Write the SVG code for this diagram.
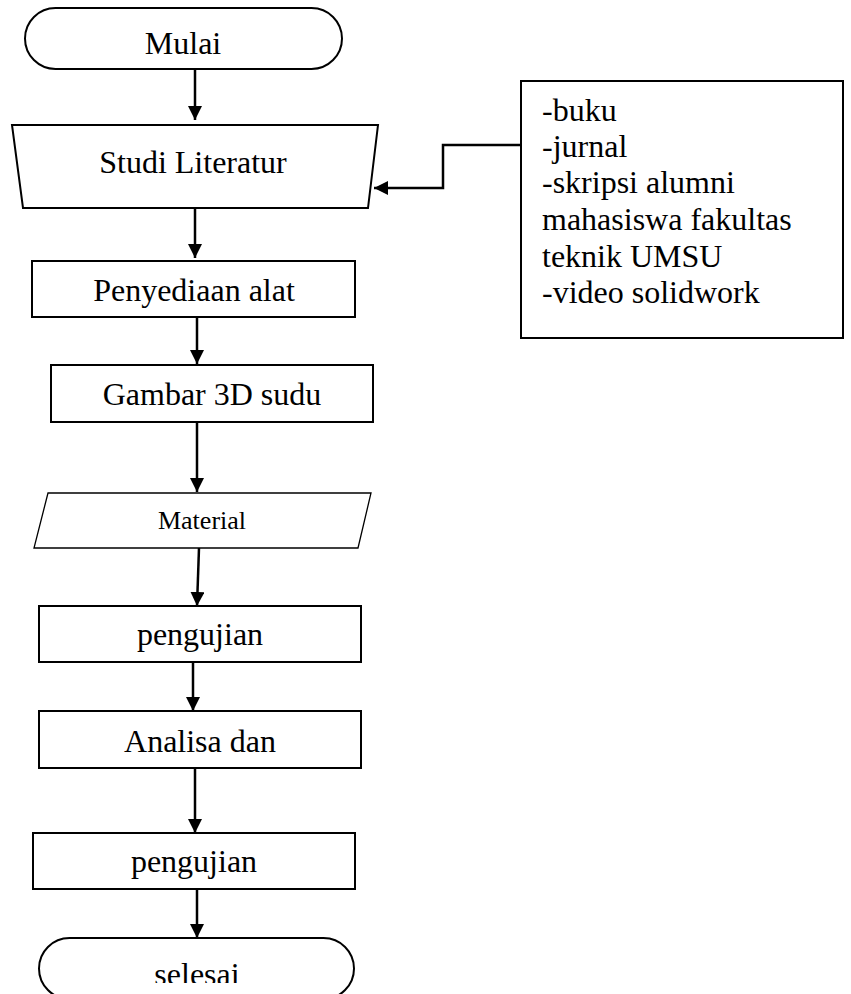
<svg xmlns="http://www.w3.org/2000/svg" width="851" height="994" viewBox="0 0 851 994">
<style>
.s{fill:#fff;stroke:#000;stroke-width:2}
.t{font-family:"Liberation Serif","Times New Roman",serif;font-size:32px;fill:#000;text-anchor:middle}
.l{font-family:"Liberation Serif","Times New Roman",serif;font-size:32px;fill:#000}
.c{fill:none;stroke:#000;stroke-width:2.5;marker-end:url(#ah)}
</style>
<defs>
<marker id="ah" markerUnits="userSpaceOnUse" markerWidth="14" markerHeight="14" refX="14" refY="7" orient="auto">
<path d="M0,0 L14,7 L0,14 z" fill="#000"/>
</marker>
<clipPath id="cl"><rect x="0" y="0" width="851" height="983"/></clipPath>
</defs>
<rect width="851" height="994" fill="#fff"/>
<g id="connectors">
<path class="c" d="M195,69 V120"/>
<path class="c" d="M195,208 V258"/>
<path class="c" d="M197,317 V364"/>
<path class="c" d="M197,422 V492"/>
<path class="c" d="M199,548 L197,606"/>
<path class="c" d="M193,662 V711"/>
<path class="c" d="M195,768 V833"/>
<path class="c" d="M197,889 V938"/>
<path class="c" d="M521,145 H443 V188 H374"/>
</g>
<g id="mulai">
<rect class="s" x="25" y="8" width="317" height="61" rx="30.5"/>
<text class="t" x="183" y="54">Mulai</text>
</g>
<g id="studi">
<polygon class="s" points="12,125 378,125 368,208 23,208"/>
<text class="t" x="193" y="173">Studi Literatur</text>
</g>
<g id="sumber">
<rect class="s" x="521" y="81" width="322" height="257"/>
<text class="l" x="542" y="121">-buku</text>
<text class="l" x="542" y="157">-jurnal</text>
<text class="l" x="542" y="193">-skripsi alumni</text>
<text class="l" x="542" y="230">mahasiswa fakultas</text>
<text class="l" x="542" y="267">teknik UMSU</text>
<text class="l" x="542" y="303">-video solidwork</text>
</g>
<g id="penyediaan">
<rect class="s" x="32" y="261" width="323" height="56"/>
<text class="t" x="194" y="301">Penyediaan alat</text>
</g>
<g id="gambar">
<rect class="s" x="51" y="365" width="322" height="57"/>
<text class="t" x="212" y="405">Gambar 3D sudu</text>
</g>
<g id="material">
<polygon class="s" style="stroke-width:1.3" points="48,493 371,493 358,548 34,548"/>
<text class="t" x="202" y="529" style="font-size:26px">Material</text>
</g>
<g id="pengujian1">
<rect class="s" x="39" y="606" width="322" height="56"/>
<text class="t" x="200" y="645">pengujian</text>
</g>
<g id="analisa">
<rect class="s" x="39" y="711" width="322" height="57"/>
<text class="t" x="200" y="752">Analisa dan</text>
</g>
<g id="pengujian2">
<rect class="s" x="33" y="833" width="322" height="56"/>
<text class="t" x="194" y="872">pengujian</text>
</g>
<g id="selesai">
<rect class="s" x="39" y="938" width="315" height="61" rx="30.5"/>
<text class="t" x="197" y="985" clip-path="url(#cl)">selesai</text>
</g>
</svg>
